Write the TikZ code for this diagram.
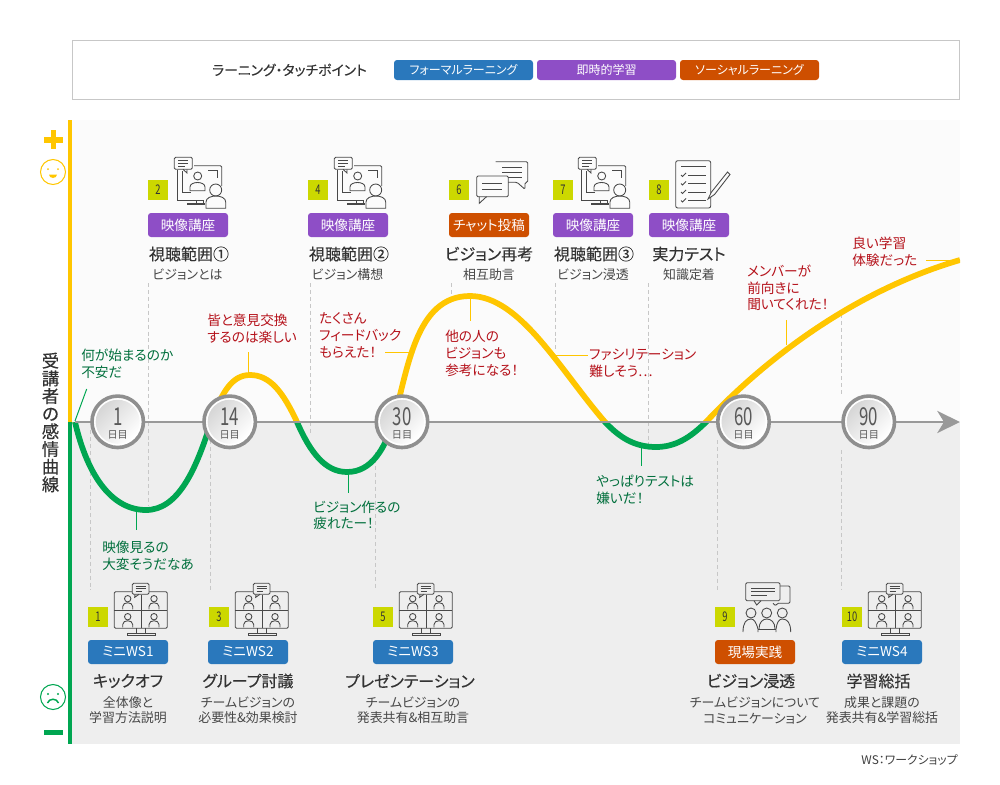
\documentclass[tikz,border=0pt]{standalone}
\usepackage{fontspec}
\setmainfont[RawFeature=+palt]{Noto Sans CJK JP}
\newfontfamily\jpmedium[RawFeature=+palt,FakeBold=0.25]{Noto Sans CJK JP}
\usetikzlibrary{arrows.meta}
\definecolor{upperbg}{HTML}{FBFBFB}
\definecolor{lowerbg}{HTML}{EEEEEE}
\definecolor{curveyel}{HTML}{FFC600}
\definecolor{curvegrn}{HTML}{00A651}
\definecolor{axisgray}{HTML}{999999}
\definecolor{ringgray}{HTML}{8F8F8F}
\definecolor{taglime}{HTML}{CCD800}
\definecolor{formalblue}{HTML}{2A78BC}
\definecolor{instantpur}{HTML}{8E4EC6}
\definecolor{socialorg}{HTML}{CE4F00}
\definecolor{msgred}{HTML}{B5121B}
\definecolor{msggrn}{HTML}{006F3C}
\definecolor{icongray}{HTML}{484848}
\tikzset{
	tag/.style={fill=taglime, minimum size=15pt, inner sep=0pt, text=black!80, font=\fontsize{10}{11}\selectfont},
	badge/.style={rounded corners=2.25pt, minimum width=60pt, minimum height=18pt, inner sep=0pt, text=white, font=\fontsize{10.2}{12}\selectfont},
	legendbadge/.style={badge, minimum width=104.25pt, minimum height=15pt, font=\fontsize{9}{10}\selectfont},
	topic/.style={inner sep=0pt, text=black!80, font=\jpmedium\fontsize{12}{14}\selectfont},
	subtopic/.style={inner sep=0pt, align=center, text=black!72, font=\fontsize{9.7}{11.3}\selectfont},
	msg/.style={inner sep=0pt, anchor=west, align=left, font=\fontsize{10.25}{12.5}\selectfont},
	dayring/.style={circle, draw=ringgray, line width=2.7pt, fill=white, minimum size=38.6pt, inner sep=0pt},
	dayface/.style={circle, minimum size=33pt, inner sep=0pt, top color=black!16, bottom color=white, shading angle=45},
	icon/.style={draw=icongray, line width=.65pt},
	guide/.style={draw=black!22, line width=.7pt, dash pattern=on 3pt off 2.2pt}
}
\def\iconvideo(#1,#2){
	\begin{scope}[shift={(#1,#2)}, icon]
		\draw[rounded corners=1pt] (0.3,0.3) rectangle (18.3,12.3);
		\draw (9,12.3) -- (13,16) -- (13,12.3);
		\draw (4,3) -- (14,3) (4,6) -- (14,6) (4,9) -- (11,9);
		\draw (3.7,12.5) -- (3.7,43) -- (30,43);
		\draw[rounded corners=1pt] (20,8.7) -- (47.7,8.7) -- (47.7,29);
		\draw (8,14) -- (8,35.7) -- (17,35.7);
		\draw (34,13) -- (43,13) -- (43,21);
		\draw (23.7,19) circle (4);
		\draw (16,33.7) -- (16,30) .. controls (16,24) and (31,24) .. (31,30) -- (31,33.7) -- cycle;
		\draw (41.7,33) circle (6);
		\draw (32,51.3) -- (32,45) .. controls (32,37) and (51.7,37) .. (51.7,45) -- (51.7,51.3) -- cycle;
		\draw (22,43) -- (22,46) (29,43) -- (29,46);
		\draw (13,46) rectangle (30,47.5);
	\end{scope}
}
\def\iconws(#1,#2){
	\begin{scope}[shift={(#1,#2)}, icon]
		\draw[rounded corners=1pt] (18,8.7) -- (0.3,8.7) -- (0.3,45.3) -- (53.3,45.3) -- (53.3,8.7) -- (35,8.7);
		\draw (27,12) -- (27,45.3) (0.3,27) -- (53.3,27);
		\draw[rounded corners=1pt] (18.3,0.3) rectangle (35,11.3);
		\draw (21,11.3) -- (20.7,14.3) -- (25,11.3);
		\draw (21.5,3) -- (31.5,3) (21.5,5.7) -- (31.5,5.7) (21.5,8.4) -- (28,8.4);
		\foreach \ox in {0,26.3} \foreach \oy in {0,18} {
			\draw (13.7+\ox,15.7+\oy) circle (3.2);
			\draw (8.7+\ox,26.3+\oy) -- (8.7+\ox,23.5+\oy) .. controls (8.7+\ox,18.5+\oy) and (18.7+\ox,18.5+\oy) .. (18.7+\ox,23.5+\oy) -- (18.7+\ox,26.3+\oy);
		}
		\draw (22.7,45.3) -- (22.7,50) (31,45.3) -- (31,50);
		\draw (13,50) rectangle (41,52);
	\end{scope}
}
\def\iconchat(#1,#2){
	\begin{scope}[shift={(#1,#2)}, icon]
		\draw[rounded corners=1pt] (19.7,0.7) -- (51.7,0.7) -- (51.7,21.3) -- (49,21.3) -- (49,28.3) -- (41,21.3) -- (32,21.3);
		\draw (26,6) -- (46,6) (26,11.3) -- (46,11.3) (32,16) -- (46,16);
		\draw[rounded corners=1pt] (0.7,15) rectangle (32.3,35.7);
		\draw (3.3,35.7) -- (3.3,42.3) -- (10.5,35.7);
		\draw (6,22.3) -- (26,22.3) (6,28.3) -- (26,28.3);
	\end{scope}
}
\def\icontest(#1,#2){
	\begin{scope}[shift={(#1,#2)}, icon]
		\draw[rounded corners=1.5pt] (0.7,0.7) rectangle (35.7,48);
		\draw (6,6.5) -- (31,6.5);
		\foreach \oy in {15,23.5,32,40.5} {
			\draw (6,\oy) -- (7.5,\oy+1.5) -- (11,\oy-2);
			\draw (13,\oy) -- (31,\oy);
		}
		\draw[fill=upperbg] (33,39) -- (36.5,32) -- (52.5,12) -- (55,14.5) -- (39.5,34.5) -- cycle;
	\end{scope}
}
\def\iconmeet(#1,#2){
	\begin{scope}[shift={(#1,#2)}, icon]
		\draw[rounded corners=1pt] (35,4) -- (45,4) -- (45,21.3) -- (32,21.3) -- (31,24) -- (28,21.3);
		\draw[rounded corners=1pt] (0.7,0.7) rectangle (35,18.7);
		\draw (9,18.7) -- (11.7,23) -- (16,18.7);
		\draw (6,6) -- (30,6) (6,9.5) -- (30,9.5) (6,13) -- (22,13);
		\foreach \ox in {6,21.7,37.3} \draw (\ox,31) circle (5);
		\draw (-2,50) .. controls (-2,41) and (1,37) .. (6,37) .. controls (9,37) and (11,40) .. (13,47) -- (13,50);
		\draw (14,47) .. controls (14,40) and (18,37) .. (21.7,37) .. controls (26,37) and (30,40) .. (30,47);
		\draw (13,47) -- (31,47);
		\draw (45.7,50) .. controls (45.7,41) and (42.5,37) .. (37.3,37) .. controls (34,37) and (32,40) .. (31,47) -- (31,50);
	\end{scope}
}
\def\emocurve{(75,422) .. controls (88,478) and (113,510) .. (146,510) .. controls (178,510) and (196,470) .. (211,422)
	.. controls (222,392) and (232,375) .. (250,375) .. controls (270,375) and (283,392) .. (297,422)
	.. controls (310,452) and (325,472) .. (347,472) .. controls (372,472) and (385,448) .. (393,422)
	.. controls (408,370) and (415,296) .. (470,296) .. controls (520,296) and (560,370) .. (605,422)
	.. controls (620,438) and (635,447) .. (656,447) .. controls (675,447) and (690,438) .. (706,422)
	.. controls (750,375) and (840,295) .. (960,260)}

\begin{document}
\begin{tikzpicture}[x=.75pt, y=-.75pt]
		%%%%% START %%%%%
		\useasboundingbox (0,0) rectangle (1000,785);
		
		% legend
		\draw[draw=black!22, line width=.75pt] (72.5,40.5) rectangle (959.5,99.5);
		\node[inner sep=0pt, text=black!80, font=\jpmedium\fontsize{10.4}{12}\selectfont] (legendtitle) at (289.5,70) {ラーニング・タッチポイント};
		\node[legendbadge, fill=formalblue] (legendformal) at (463.5,70) {フォーマルラーニング};
		\node[legendbadge, fill=instantpur] (legendinstant) at (606.5,70) {即時的学習};
		\node[legendbadge, fill=socialorg] (legendsocial) at (749.5,70) {ソーシャルラーニング};
		
		% panels and left bar
		\fill[upperbg] (72,120) rectangle (960,422);
		\fill[lowerbg] (72,422) rectangle (960,744);
		\fill[curveyel] (68,120) rectangle (72,422);
		\fill[curvegrn] (68,422) rectangle (72,744);
		
		\fill[curveyel] (44,137) rectangle (63,142.5);
		\fill[curveyel] (50.7,130) rectangle (56.2,149);
		\draw[curveyel, line width=.8pt] (53,172) circle (12.5);
		\fill[curveyel] (48,169) circle (1) (58,169) circle (1);
		\fill[curveyel] (57,174.5) arc (0:180:4 and 3.5) -- cycle;
		\draw[curvegrn, line width=.8pt] (53,697) circle (12.5);
		\fill[curvegrn] (48,694) circle (1.2) (58,694) circle (1.2);
		\draw[curvegrn, line width=1.1pt] (47.5,703) .. controls (49,698) and (57,698) .. (58.5,703);
		\fill[curvegrn] (44,730) rectangle (63,735);
		
		\node[inner sep=0pt, align=center, text=black!80, font=\jpmedium\fontsize{13}{13.25}\selectfont] (axistitle) at (50.5,422.5) {受\\講\\者\\の\\感\\情\\曲\\線};
		
		% guides
		\foreach \gx/\gya/\gyb in {148/283/505, 310.3/283/435, 451.7/283/300, 555.7/283/352, 648.7/283/450, 841.7/314/395,
			90/430/590, 210.7/440/590, 375.3/452/590, 717.3/440/590, 841.7/450/590}
			\draw[guide] (\gx,\gya) -- (\gx,\gyb);
		
		% callouts
		\node[msg, text=msggrn] (msgworry) at (81,363.5) {何が始まるのか\\不安だ};
		\node[msg, text=msggrn] (msghard) at (102,555.5) {映像見るの\\大変そうだなあ};
		\node[msg, text=msgred] (msgshare) at (207,329) {皆と意見交換\\するのは楽しい};
		\node[msg, text=msgred] (msgfeedback) at (319,335.5) {たくさん\\フィードバック\\もらえた！};
		\node[msg, text=msggrn] (msgtired) at (313,515.5) {ビジョン作るの\\疲れたー！};
		\node[msg, text=msgred] (msgothers) at (445,353.5) {他の人の\\ビジョンも\\参考になる！};
		\node[msg, text=msgred] (msgfacil) at (589,363.5) {ファシリテーション\\難しそう…};
		\node[msg, text=msggrn] (msgtest) at (596,489.5) {やっぱりテストは\\嫌いだ！};
		\node[msg, text=msgred] (msgmember) at (747,288) {メンバーが\\前向きに\\聞いてくれた！};
		\node[msg, text=msgred] (msggood) at (852,251.5) {良い学習\\体験だった};
		
		\foreach \lk/\lcol/\ax/\ay/\bx/\by in {lkworry/curvegrn/75/421/86.7/389, lkhard/curvegrn/136.5/511/136.5/530,
			lkshare/curveyel/248.3/375/248.3/352, lkfeedback/curveyel/410/352/385/352, lktired/curvegrn/348.3/471/348.3/493,
			lkothers/curveyel/470.3/296/470.3/321, lkfacil/curveyel/556/355.3/587.7/355.3, lktest/curvegrn/641.3/445/641.3/466,
			lkmember/curveyel/786.7/345/786.7/320, lkgood/curveyel/955/260.3/926/260.3} {
			\coordinate (\lk a) at (\ax,\ay);
			\coordinate (\lk b) at (\bx,\by);
			\draw[\lcol, line width=.75pt] (\lk a) -- (\lk b);
		}
		
		% curve, yellow above the axis and green below
		\begin{scope}
			\clip (60,100) rectangle (960,422);
			\draw[curveyel, line width=4.3pt] \emocurve;
		\end{scope}
		\begin{scope}
			\clip (60,422) rectangle (960,760);
			\draw[curvegrn, line width=4.3pt] \emocurve;
		\end{scope}
		
		% axis and day marks
		\coordinate (axisstart) at (75,422);
		\coordinate (axisend) at (960,422);
		\draw[axisgray, line width=2.2pt, -{Stealth[length=17pt, width=16.5pt, inset=5pt]}] (axisstart) -- (axisend);
		
		\foreach \dn/\dx/\dtxt in {dayA/117.7/1, dayB/229.7/14, dayC/402/30, dayD/743.5/60, dayE/868.8/90} {
			\node[dayring] (\dn) at (\dx,421.8) {};
			\node[dayface] (\dn f) at (\dx,421.8) {};
			\node[inner sep=0pt, text=black!65, font=\fontsize{18.5}{18.5}\selectfont] (\dn n) at (\dx,416.5) {\scalebox{.68}[1]{\dtxt}};
			\node[inner sep=0pt, text=black!65, font=\fontsize{7.6}{8}\selectfont] (\dn u) at (\dx,434.5) {日目};
		}
		
		% upper touch points
		\iconvideo(174,157)
		\node[tag] (tagtwo) at (158,190) {\scalebox{.7}[1]{2}};
		\node[badge, fill=instantpur] (badgetwo) at (188,225) {映像講座};
		\node[topic] (topictwo) at (189,254) {視聴範囲①};
		\node[subtopic] (subtwo) at (187.5,275) {ビジョンとは};
		
		\iconvideo(334,157)
		\node[tag] (tagfour) at (318,190) {\scalebox{.7}[1]{4}};
		\node[badge, fill=instantpur] (badgefour) at (348,225) {映像講座};
		\node[topic] (topicfour) at (349,254) {視聴範囲②};
		\node[subtopic] (subfour) at (347.5,275) {ビジョン構想};
		
		\iconchat(476,161)
		\node[tag] (tagsix) at (459,190) {\scalebox{.7}[1]{6}};
		\node[badge, fill=socialorg] (badgesix) at (489,225) {チャット投稿};
		\node[topic] (topicsix) at (489,254) {ビジョン再考};
		\node[subtopic] (subsix) at (489,275) {相互助言};
		
		\iconvideo(578,157)
		\node[tag] (tagseven) at (563,190) {\scalebox{.7}[1]{7}};
		\node[badge, fill=instantpur] (badgeseven) at (593,225) {映像講座};
		\node[topic] (topicseven) at (594,254) {視聴範囲③};
		\node[subtopic] (subseven) at (593,275) {ビジョン浸透};
		
		\icontest(675,160)
		\node[tag] (tageight) at (659,190) {\scalebox{.7}[1]{8}};
		\node[badge, fill=instantpur] (badgeeight) at (689,225) {映像講座};
		\node[topic] (topiceight) at (689,254) {実力テスト};
		\node[subtopic] (subeight) at (689,275) {知識定着};
		
		% lower touch points
		\iconws(114,583)
		\node[tag] (tagone) at (98,617) {\scalebox{.7}[1]{1}};
		\node[badge, fill=formalblue] (badgeone) at (128,652) {ミニWS1};
		\node[topic] (topicone) at (128,681) {キックオフ};
		\node[subtopic] (subone) at (128,710.5) {全体像と\\学習方法説明};
		
		\iconws(235,583)
		\node[tag] (tagthree) at (219,617) {\scalebox{.7}[1]{3}};
		\node[badge, fill=formalblue] (badgethree) at (248,652) {ミニWS2};
		\node[topic] (topicthree) at (248,681) {グループ討議};
		\node[subtopic] (subthree) at (248,710.5) {チームビジョンの\\必要性\&効果検討};
		
		\iconws(399,583)
		\node[tag] (tagfive) at (383,617) {\scalebox{.7}[1]{5}};
		\node[badge, fill=formalblue] (badgefive) at (413,652) {ミニWS3};
		\node[topic] (topicfive) at (410,681) {プレゼンテーション};
		\node[subtopic] (subfive) at (413,710.5) {チームビジョンの\\発表共有\&相互助言};
		
		\iconmeet(745,582)
		\node[tag] (tagnine) at (725,617) {\scalebox{.7}[1]{9}};
		\node[badge, fill=socialorg] (badgenine) at (755,652) {現場実践};
		\node[topic] (topicnine) at (751,681) {ビジョン浸透};
		\node[subtopic] (subnine) at (755,710.5) {チームビジョンについて\\コミュニケーション};
		
		\iconws(868,583)
		\node[tag] (tagten) at (852,617) {\scalebox{.7}[1]{10}};
		\node[badge, fill=formalblue] (badgeten) at (882,652) {ミニWS4};
		\node[topic] (topicten) at (878.5,681) {学習総括};
		\node[subtopic] (subten) at (882,710.5) {成果と課題の\\発表共有\&学習総括};
		
		\node[inner sep=0pt, anchor=east, text=black!75, font=\fontsize{8.9}{10}\selectfont] (wsnote) at (958,760) {WS：ワークショップ};
		
		%%%%% END %%%%%
	\end{tikzpicture}
\end{document}
